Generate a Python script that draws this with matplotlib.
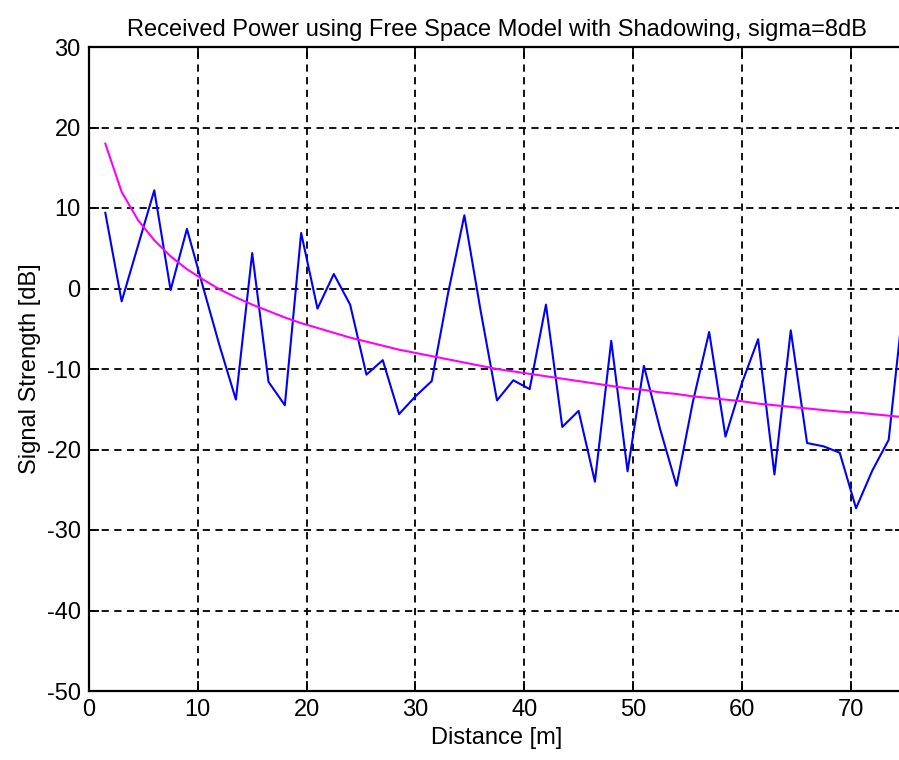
import matplotlib
matplotlib.use("Agg")
import matplotlib.pyplot as plt

# distance [m], one sample every 1.5 m
distance = [1.5 * k for k in range(1, 51)]

# shadowed received power (blue)
shadowed = [9.4, -1.6, 5.3, 12.2, -0.2, 7.4, 0.1, -7.1, -13.8, 4.4,
            -11.6, -14.5, 6.9, -2.5, 1.8, -2.0, -10.7, -8.9, -15.6, -13.4,
            -11.5, -0.6, 9.1, -2.8, -13.9, -11.4, -12.5, -2.0, -17.2, -15.2,
            -24.0, -6.5, -22.7, -9.6, -17.5, -24.5, -14.1, -5.4, -18.4, -11.8,
            -6.3, -23.1, -5.2, -19.2, -19.6, -20.4, -27.3, -22.6, -18.8, 0.0]

# free space mean power (magenta)
free_space = [18.0, 12.0, 8.5, 6.0, 4.0, 2.4, 1.1, -0.1, -1.1, -2.0,
              -2.8, -3.6, -4.3, -4.9, -5.5, -6.1, -6.6, -7.1, -7.6, -8.0,
              -8.4, -8.8, -9.2, -9.6, -10.0, -10.3, -10.6, -10.9, -11.2, -11.5,
              -11.8, -12.1, -12.4, -12.6, -12.9, -13.1, -13.4, -13.6, -13.8, -14.0,
              -14.3, -14.5, -14.7, -14.9, -15.1, -15.3, -15.4, -15.6, -15.8, -16.0]

x_ticks = [0, 10, 20, 30, 40, 50, 60, 70]
y_ticks = [-50, -40, -30, -20, -10, 0, 10, 20, 30]

plt.rcParams['font.family'] = ['Liberation Sans', 'DejaVu Sans']
plt.rcParams['axes.unicode_minus'] = False

fig = plt.figure(figsize=(8.99, 7.6), dpi=100)
# axes run slightly past the right edge, like the cropped original
ax = fig.add_axes([89 / 899, 69 / 760, 816 / 899, 644 / 760])

ax.plot(distance, shadowed, color='#0000ff', linewidth=1.5)
ax.plot(distance, free_space, color='#ff00ff', linewidth=1.5)

ax.set_xlim(0, 75)
ax.set_ylim(-50, 30)
ax.set_xticks(x_ticks)
ax.set_yticks(y_ticks)

ax.grid(True, color='black', linestyle=(0, (4, 3)), linewidth=1.3)
ax.set_axisbelow(True)

for s in ax.spines.values():
    s.set_linewidth(1.6)
    s.set_color('black')

ax.tick_params(direction='in', length=7, width=1.3, top=True, right=True,
               labelsize=17, pad=6)

ax.set_xlabel('Distance [m]', fontsize=17, labelpad=4)
ax.set_ylabel('Signal Strength [dB]', fontsize=17, labelpad=4)
ax.set_title('Received Power using Free Space Model with Shadowing, sigma=8dB',
             fontsize=17, pad=8)

fig.savefig('out.png', dpi=100)
